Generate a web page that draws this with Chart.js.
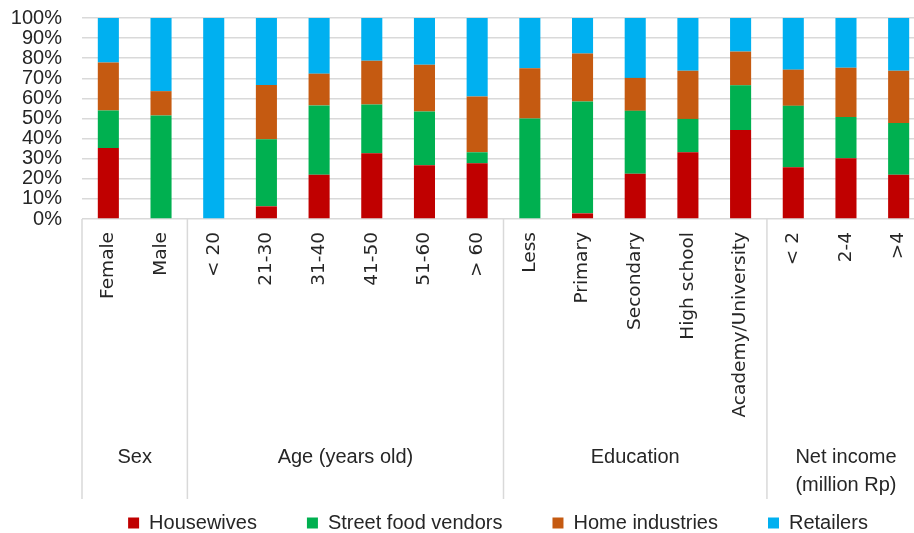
<!DOCTYPE html>
<html>
<head>
<meta charset="utf-8">
<script src="https://cdn.jsdelivr.net/npm/chart.js@4.4.1/dist/chart.umd.min.js"></script>
<style>
html, body { margin: 0; padding: 0; overflow: hidden; background: #fff; }
#chart { display: block; }
</style>
</head>
<body>
<canvas id="chart" width="996" height="543"></canvas>
<script>
// categories on the x axis, grouped underneath
const categories = ['Female', 'Male', '< 20', '21-30', '31-40', '41-50', '51-60', '> 60',
    'Less', 'Primary', 'Secondary', 'High school', 'Academy/University', '< 2', '2-4', '>4'];
const groupLabels = [['Sex'], ['Age (years old)'], ['Education'], ['Net income', '(million Rp)']];
const groupSizes = [2, 6, 5, 3];

// share of each respondent type (%)
const housewives     = [35.3, 0,    0,   6.3,  22,   32.7, 26.7, 27.7, 0,  2.8,  22.5, 33.2, 44.3, 25.7, 30.2, 22];
const streetVendors  = [18.7, 51.5, 0,   33.4, 34.5, 24.3, 26.8, 5.5,  50, 55.7, 31.3, 16.6, 22.2, 30.6, 20.6, 25.7];
const homeIndustries = [23.8, 12.1, 0,   27,   15.8, 21.7, 23.2, 27.8, 25, 23.8, 16.4, 23.9, 16.8, 18,   24.5, 26];
const retailers      = [22.2, 36.4, 100, 33.3, 27.7, 21.3, 23.3, 39,   25, 17.7, 29.8, 26.3, 16.7, 25.7, 24.7, 26.3];

const yTicks = [0, 10, 20, 30, 40, 50, 60, 70, 80, 90, 100];

const gridColor = '#d9d9d9';
const textColor = '#262626';

const groupPlugin = {
    id: 'groups',
    afterDraw(chart) {
        const ctx = chart.ctx;
        const x = chart.scales.x;
        const area = chart.chartArea;
        const half = (x.getPixelForValue(1) - x.getPixelForValue(0)) / 2;
        ctx.save();
        ctx.strokeStyle = gridColor;
        ctx.lineWidth = 1.5;
        ctx.fillStyle = textColor;
        ctx.font = '20px "Liberation Sans", Arial, sans-serif';
        ctx.textAlign = 'center';
        ctx.textBaseline = 'middle';
        let start = 0;
        const drawSep = (px) => {
            ctx.beginPath();
            ctx.moveTo(px, area.bottom);
            ctx.lineTo(px, 499);
            ctx.stroke();
        };
        drawSep(x.getPixelForValue(0) - half);
        groupSizes.forEach((n, g) => {
            const end = start + n - 1;
            const left = x.getPixelForValue(start) - half;
            const right = x.getPixelForValue(end) + half;
            drawSep(right);
            const cx = (left + right) / 2;
            groupLabels[g].forEach((line, i) => {
                ctx.fillText(line, cx, 457 + i * 28);
            });
            start += n;
        });
        ctx.restore();
    }
};

new Chart(document.getElementById('chart'), {
    type: 'bar',
    data: {
        labels: categories,
        datasets: [
            { label: 'Housewives', data: housewives, backgroundColor: '#C00000' },
            { label: 'Street food vendors', data: streetVendors, backgroundColor: '#00B050' },
            { label: 'Home industries', data: homeIndustries, backgroundColor: '#C55A11' },
            { label: 'Retailers', data: retailers, backgroundColor: '#00B0F0' }
        ]
    },
    options: {
        responsive: false,
        animation: false,
        barPercentage: 0.4,
        categoryPercentage: 1,
        layout: { padding: { top: 18, left: 0, right: 0, bottom: 0 } },
        plugins: {
            tooltip: { enabled: false },
            legend: {
                position: 'bottom',
                labels: {
                    boxWidth: 11,
                    boxHeight: 11,
                    padding: 50,
                    color: textColor,
                    font: { family: '"Liberation Sans", Arial, sans-serif', size: 20 }
                }
            }
        },
        scales: {
            x: {
                stacked: true,
                grid: { display: false, drawTicks: false },
                border: { display: false },
                ticks: {
                    autoSkip: false,
                    minRotation: 90,
                    maxRotation: 90,
                    padding: 13,
                    color: textColor,
                    font: { family: '"DejaVu Sans", Verdana, sans-serif', size: 18.5 }
                },
                afterFit(scale) { scale.height = 244; }
            },
            y: {
                stacked: true,
                min: 0,
                max: 100,
                afterBuildTicks(scale) { scale.ticks = yTicks.map(v => ({ value: v })); },
                grid: { color: gridColor, lineWidth: 1.5, drawTicks: false },
                border: { display: false },
                ticks: {
                    autoSkip: false,
                    padding: 20,
                    color: textColor,
                    font: { family: '"Liberation Sans", Arial, sans-serif', size: 20 },
                    callback: v => v + '%'
                },
                afterFit(scale) {
                    scale.width = 82;
                    scale.paddingTop = 0;
                    scale.paddingBottom = 0;
                }
            },
            yRight: {
                position: 'right',
                min: 0,
                max: 1,
                grid: { display: false },
                border: { display: false },
                ticks: { display: false },
                afterFit(scale) { scale.width = 71; }
            }
        }
    },
    plugins: [groupPlugin]
});
</script>
</body>
</html>
